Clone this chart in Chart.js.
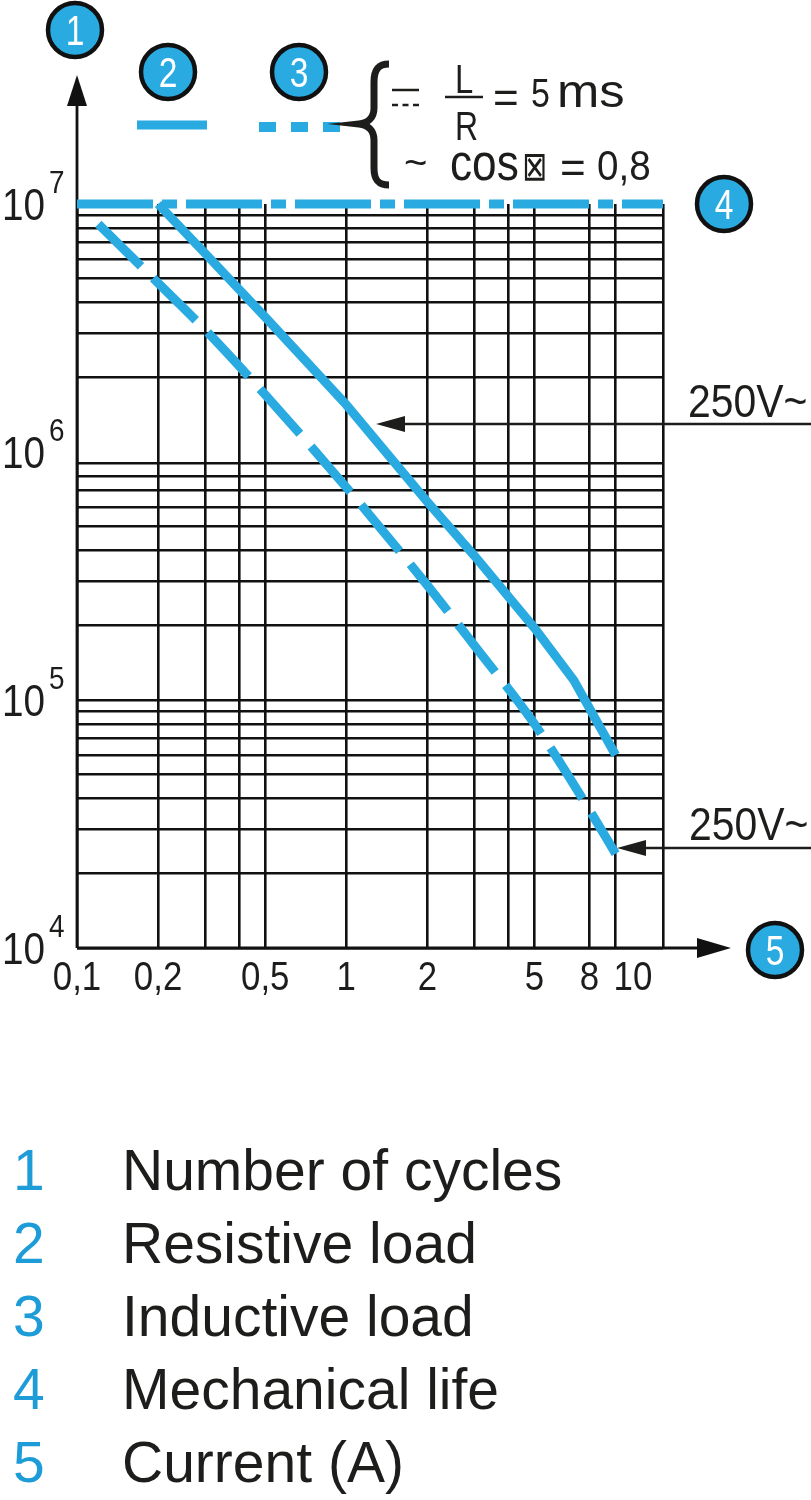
<!DOCTYPE html>
<html>
<head>
<meta charset="utf-8">
<script src="https://cdn.jsdelivr.net/npm/chart.js@4.4.1/dist/chart.umd.min.js"></script>
<style>
  html, body { margin:0; padding:0; background:#fff; }
  body { width:811px; height:1500px; position:relative; overflow:hidden; font-family:"Liberation Sans", Arial, sans-serif; }
  #wrap { position:absolute; left:0; top:0; width:811px; height:1040px; }
  #legend { position:absolute; left:0; top:1134px; width:811px; }
  .row { position:relative; height:73px; line-height:73px; font-size:57px; color:#1d1d1b; white-space:nowrap; }
  .num { position:absolute; left:13px; color:#1e9cd8; }
  .txt { position:absolute; left:122px; }
</style>
</head>
<body>
<div id="wrap"><canvas id="chart" width="811" height="1040"></canvas></div>
<div id="legend"></div>
<script>
/* ---- values ---- */
var X_GRID = [0.1, 0.2, 0.3, 0.4, 0.5, 1, 2, 3, 4, 5, 8, 10, 15];
var Y_GRID = [1e4, 2e4, 3e4, 4e4, 5e4, 6e4, 7e4, 8e4, 9e4, 1e5,
              2e5, 3e5, 4e5, 5e5, 6e5, 7e5, 8e5, 9e5,
              2e6, 3e6, 4e6, 5e6, 6e6, 7e6, 8e6, 9e6, 1e7];

var X_LABEL_VALUES = [0.1, 0.2, 0.5, 1, 2, 5, 8, 10];
var X_LABELS       = ['0,1', '0,2', '0,5', '1', '2', '5', '8', '10'];
var Y_LABEL_VALUES = [1e7, 1e6, 1e5, 1e4];
var Y_LABEL_EXP    = ['7', '6', '5', '4'];

var MECH_X = [0.1, 15];
var MECH_Y = [1e7, 1e7];

var RESISTIVE_X = [0.2, 0.3, 0.5, 1, 2, 3, 5, 7, 10];
var RESISTIVE_Y = [1e7, 6.3e6, 3.5e6, 1.55e6, 6.3e5, 3.8e5, 1.95e5, 1.2e5, 6e4];

var INDUCTIVE_X = [0.12, 0.2, 0.3, 0.5, 1, 2, 3, 5, 8, 10];
var INDUCTIVE_Y = [8.3e6, 4.8e6, 3.1e6, 1.7e6, 7.2e5, 2.9e5, 1.65e5, 8e4, 3.6e4, 2.4e4];

var LEGEND_NUMS  = ['1', '2', '3', '4', '5'];
var LEGEND_TEXTS = ['Number of cycles', 'Resistive load', 'Inductive load', 'Mechanical life', 'Current (A)'];

var BLUE = '#29abe2';
var INK  = '#1d1d1b';
var GRID = '#111111';
var FONT = '"Liberation Sans", Arial, sans-serif';

function pts(xs, ys) {
  return xs.map(function (x, i) { return { x: x, y: ys[i] }; });
}

function text(ctx, s, x, y, size, o) {
  o = o || {};
  ctx.save();
  ctx.font = size + 'px ' + (o.family || FONT);
  ctx.fillStyle = o.color || INK;
  ctx.textAlign = o.align || 'left';
  ctx.textBaseline = 'alphabetic';
  ctx.translate(x, y);
  ctx.scale(o.sx || 1, 1);
  ctx.fillText(s, 0, 0);
  ctx.restore();
}

function badge(ctx, n, cx, cy) {
  ctx.save();
  ctx.beginPath();
  ctx.arc(cx, cy, 27, 0, Math.PI * 2);
  ctx.fillStyle = BLUE;
  ctx.fill();
  ctx.lineWidth = 4.5;
  ctx.strokeStyle = '#111';
  ctx.stroke();
  ctx.restore();
  text(ctx, n, cx, cy + 15, 42, { align: 'center', color: '#fff', sx: 0.8 });
}

function tri(ctx, x1, y1, x2, y2, x3, y3) {
  ctx.beginPath();
  ctx.moveTo(x1, y1); ctx.lineTo(x2, y2); ctx.lineTo(x3, y3);
  ctx.closePath();
  ctx.fill();
}

function seg(ctx, x1, y1, x2, y2, w, dash) {
  ctx.save();
  ctx.lineWidth = w;
  ctx.setLineDash(dash || []);
  ctx.beginPath();
  ctx.moveTo(x1, y1); ctx.lineTo(x2, y2);
  ctx.stroke();
  ctx.restore();
}

/* axes with arrows, drawn under the curves */
var axesPlugin = {
  id: 'axes',
  beforeDatasetsDraw: function (chart) {
    var ctx = chart.ctx, a = chart.chartArea;
    ctx.save();
    ctx.strokeStyle = GRID;
    ctx.fillStyle = GRID;
    seg(ctx, a.left, a.bottom, a.left, 104, 2.8);
    tri(ctx, a.left, 75, a.left - 10, 106, a.left + 10, 106);
    seg(ctx, a.left, a.bottom, 699, a.bottom, 3.2);
    tri(ctx, 731, a.bottom, 697, a.bottom - 10, 697, a.bottom + 10);
    ctx.restore();
  }
};

/* labels, badges and notes */
var notesPlugin = {
  id: 'notes',
  afterDraw: function (chart) {
    var ctx = chart.ctx, xs = chart.scales.x, ys = chart.scales.y, a = chart.chartArea;

    /* y tick labels 10^n */
    Y_LABEL_VALUES.forEach(function (v, i) {
      var py = ys.getPixelForValue(v);
      text(ctx, '10', 2, py + 16, 44, { sx: 0.88 });
      text(ctx, Y_LABEL_EXP[i], 49, py - 11, 31, { sx: 0.9 });
    });

    /* x tick labels */
    X_LABEL_VALUES.forEach(function (v, i) {
      var px = xs.getPixelForValue(v);
      var last = i === X_LABEL_VALUES.length - 1;
      text(ctx, X_LABELS[i], last ? px - 2 : px, a.bottom + 42, 41,
           { sx: 0.85, align: last ? 'left' : 'center' });
    });

    /* badges */
    badge(ctx, '1', 75, 30);
    badge(ctx, '2', 168, 72);
    badge(ctx, '3', 299, 72);
    badge(ctx, '4', 724, ys.getPixelForValue(1e7));
    badge(ctx, '5', 775, a.bottom + 2);

    /* line samples */
    ctx.save();
    ctx.strokeStyle = BLUE;
    seg(ctx, 137, 125, 207, 125, 9);
    seg(ctx, 259, 127, 340, 127, 10, [17, 15]);
    ctx.restore();

    /* brace */
    ctx.save();
    ctx.strokeStyle = INK;
    ctx.lineWidth = 7;
    ctx.beginPath();
    ctx.moveTo(389, 64);
    ctx.bezierCurveTo(378, 64, 374, 70, 374, 82);
    ctx.lineTo(374, 108);
    ctx.bezierCurveTo(374, 118, 368, 123, 359, 124);
    ctx.bezierCurveTo(368, 125, 374, 130, 374, 140);
    ctx.lineTo(374, 168);
    ctx.bezierCurveTo(374, 180, 378, 185, 389, 185);
    ctx.stroke();

    /* DC sign */
    ctx.strokeStyle = INK;
    seg(ctx, 392, 90, 419, 90, 2.5);
    seg(ctx, 392, 105, 421, 105, 2.5, [6, 4.5]);
    /* fraction bar */
    seg(ctx, 445, 97, 483, 97, 2.5);
    ctx.restore();

    text(ctx, 'L', 455, 93, 40, { sx: 0.82 });
    text(ctx, 'R', 455, 140, 40, { sx: 0.8 });
    text(ctx, '=', 493, 113, 44);
    text(ctx, '5', 531, 107, 40, { sx: 0.85 });
    text(ctx, 'ms', 557, 107, 47, { sx: 1.08 });

    text(ctx, '~', 404, 176, 40);
    text(ctx, 'cos', 450, 180, 52, { sx: 0.85 });
    text(ctx, '\u22A0', 522, 180, 40, { sx: 0.75, family: '"DejaVu Sans", sans-serif' });
    text(ctx, '=', 560, 183, 44);
    text(ctx, '0,8', 597, 180, 42, { sx: 0.92 });

    /* 250V~ pointers */
    ctx.save();
    ctx.strokeStyle = INK;
    ctx.fillStyle = INK;
    seg(ctx, 402, 424, 811, 424, 2.4);
    tri(ctx, 376, 424, 405, 416, 405, 432);
    seg(ctx, 643, 848, 811, 848, 2.4);
    tri(ctx, 617, 848, 646, 840, 646, 856);
    ctx.restore();
    text(ctx, '250V~', 688, 417, 47, { sx: 0.87 });
    text(ctx, '250V~', 689, 840, 47, { sx: 0.87 });
  }
};

new Chart(document.getElementById('chart'), {
  type: 'line',
  data: {
    datasets: [
      { label: 'Mechanical life', data: pts(MECH_X, MECH_Y),
        borderColor: BLUE, borderWidth: 9, borderDash: [76, 9, 15, 9],
        pointRadius: 0, clip: false },
      { label: 'Resistive load', data: pts(RESISTIVE_X, RESISTIVE_Y),
        borderColor: BLUE, borderWidth: 9, tension: 0,
        pointRadius: 0, clip: false },
      { label: 'Inductive load', data: pts(INDUCTIVE_X, INDUCTIVE_Y),
        borderColor: BLUE, borderWidth: 9, borderDash: [60, 17],
        cubicInterpolationMode: 'monotone', pointRadius: 0, clip: false }
    ]
  },
  options: {
    responsive: false,
    animation: false,
    layout: { padding: { left: 77, top: 204, right: 148, bottom: 92 } },
    plugins: { legend: { display: false }, tooltip: { enabled: false } },
    scales: {
      x: {
        type: 'logarithmic', min: 0.1, max: 15,
        afterBuildTicks: function (s) { s.ticks = X_GRID.map(function (v) { return { value: v }; }); },
        ticks: { display: false },
        grid: { color: GRID, lineWidth: 2.6, drawTicks: false },
        border: { display: false }
      },
      y: {
        type: 'logarithmic', min: 1e4, max: 1e7,
        afterBuildTicks: function (s) { s.ticks = Y_GRID.map(function (v) { return { value: v }; }); },
        ticks: { display: false },
        grid: {
          color: function (c) { return c.tick && c.tick.value === 1e7 ? 'rgba(0,0,0,0)' : GRID; },
          lineWidth: 2.6, drawTicks: false
        },
        border: { display: false }
      }
    }
  },
  plugins: [axesPlugin, notesPlugin]
});

/* bottom key */
var legend = document.getElementById('legend');
LEGEND_NUMS.forEach(function (n, i) {
  var row = document.createElement('div');
  row.className = 'row';
  row.innerHTML = '<span class="num">' + n + '</span><span class="txt">' + LEGEND_TEXTS[i] + '</span>';
  legend.appendChild(row);
});
</script>
</body>
</html>
